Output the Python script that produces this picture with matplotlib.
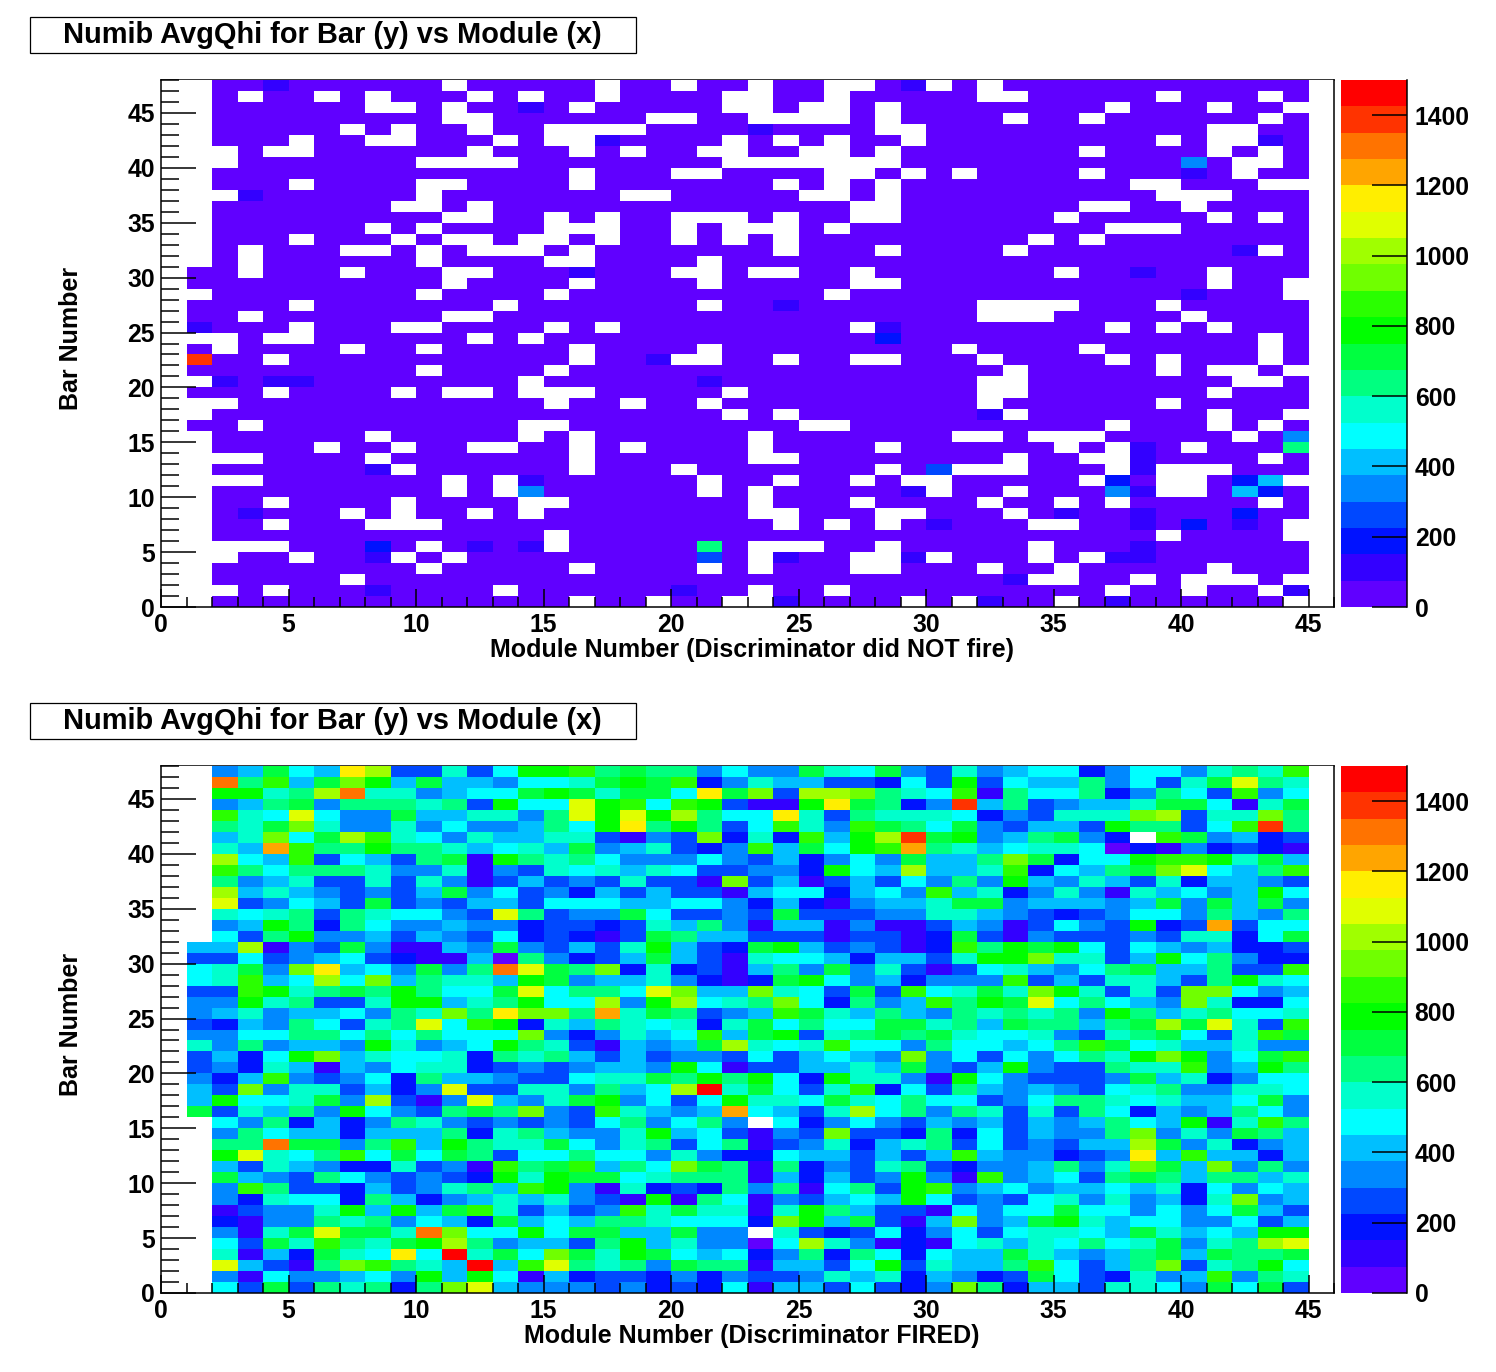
from matplotlib import pyplot as plt
from matplotlib.colors import ListedColormap, BoundaryNorm
from matplotlib.patches import Rectangle
from matplotlib.ticker import MultipleLocator
import numpy as np

plt.rcParams['font.family'] = ['Liberation Sans', 'DejaVu Sans']
plt.rcParams['font.weight'] = 'bold'

W, H = 1496, 1372

# palette bands, 75 wide each, 0 to 1500
bands = ["#6000ff", "#3300ff", "#0012ff", "#0048ff", "#0088ff", "#00bfff", "#00ffff",
         "#00ffcc", "#00ff80", "#00ff40", "#00ff00", "#2aff00", "#70ff00", "#a0ff00",
         "#e0ff00", "#ffee00", "#ffa500", "#ff7300", "#ff3300", "#ff0000"]
band_width = 75
title = "Numib AvgQhi for Bar (y) vs Module (x)"
xlabel_top = "Module Number (Discriminator did NOT fire)"
xlabel_bottom = "Module Number (Discriminator FIRED)"
ylabel = "Bar Number"
cbar_ticks = [0, 200, 400, 600, 800, 1000, 1200, 1400]

# one string per bar, 47 down to 0, modules 1 to 44. '.' is an empty bin,
# otherwise the character is the colour band (0-9, a-j)
not_fired = [
    ".0010 00000 .0000 0.00. 00.00 ..01. 0.000 00000 0000",
    ".0.00 .0.00 0.0.0 0.000 0..00 .0000 0..00 000.0 00.0",
    ".0000 00..0 .0010 .0000 0..0. .0.00 00000 0.000 .00.",
    ".0000 00000 ..000 000.. 00... .0.00 00.00 .0000 00.0",
    ".0000 0.0.0 0.00. ...00 00100 00..0 00000 00000 ..00",
    ".000. 00..0 00.0. .1000 0.0.0 .00.0 00000 000.0 ..10",
    "..0.. 00000 0.000 .0.00 ..00. .0.00 00000 .0000 .0.0",
    "..000 0000. ...00 00000 0.... ...00 00000 00004 0..0",
    ".0000 00000 00000 .000. .0000 ..0.0 .0000 .0001 0.00",
    ".000. 0000. .0000 .0000 000.0 .0.00 00000 00..0 00..",
    "..100 0000. 00000 00..0 0000. .0.00 00000 000.. .000",
    ".0000 000.. 0.000 00000 00000 0..00 00000 ..00. 0000",
    ".0000 00000 ..00. 0.00. ..0.0 0..00 0000. 00000 .0.0",
    ".0000 00.0. 0000. ..00. 0...0 .0000 00000 0...0 0000",
    ".000. 000.0 ..0.. 0.00. 0.0.0 00000 000.0 .0000 0000",
    ".0.00 0..0. 0...0 .0000 000.0 00.00 00.00 00000 01.0",
    ".0.00 0000. 0000. .0000 .0000 00000 00000 00000 0000",
    "00.00 0.000 ..000 1000. .0..0 0.000 0000. 00100 .000",
    "00000 00000 .0000 .0000 .0000 0..00 00000 00000 .00.",
    ".0000 0000. 0000. 00000 00000 .0000 00000 00001 000.",
    "0000. 00000 00.00 00000 .0010 00000 0.... 000.0 0000",
    "00.00 00000 ..000 00000 00000 00000 0...0 0000. 0000",
    "1000. 000.. 0000. 0.000 00000 0.100 00000 0.0.0 .000",
    "..0.. 00000 0.0.0 00000 00000 00200 00000 00000 00.0",
    "0.000 0.00. 00000 .0000 .0000 00000 .0000 .0000 00.0",
    "i00.0 00000 00000 .001. .00.0 0..00 0.000 0.0.0 00.0",
    "00000 0000. 0000. 00000 00000 00000 00.00 000.0 ..0.",
    ".1011 00000 000.0 00000 10000 00000 0..00 00000 0..0",
    "000.0 000.0 ..0.. .0000 0.000 00000 0..00 00000 .000",
    "..000 00000 0000. 00.00 .0000 00000 0.000 000.0 0000",
    ".0000 00000 00000 00000 0.0.0 00000 01.00 00000 .00.",
    "00.00 00000 000.. 00000 0000. .0000 00000 0.000 .0.0",
    ".0000 00.00 000.0 .0000 00.00 00000 ..0.. .0000 0.04",
    ".0000 .00.0 0..00 .0.00 00.00 00.00 0000. 0.10. 0008",
    "...00 00.00 00000 .0000 00..0 00000 00.00 ..100 00.0",
    ".0000 001.0 00000 .000. 00000 00.03 ...00 0.1.. .000",
    "...00 00000 .0.10 00000 .00.0 0.0.. 00000 .20.. 025.",
    ".0000 00000 .0.40 00000 .0.00 0001. 00.00 041.. 0520",
    ".00.0 000.0 000.. 00000 00.00 0.000 0.00. 0.000 00.0",
    ".0100 0.0.0 0.0.0 00000 00..0 00..0 00.01 00100 0200",
    ".00.0 00... 00000 00000 000.0 .0.01 000.. 00102 010.",
    ".0000 00000 0000. 00000 00000 00000 00000 000.0 000.",
    "....0 0020. 0101. 00000 80... 00.00 000.0 00100 0000",
    "..00. 001.0 .0000 00000 30.10 0..1. 000.0 .1100 0000",
    ".0000 0000. 00000 .0000 .0.00 0..00 0.00. 00000 .000",
    ".0000 0.000 00000 00000 00000 00000 001.. 00.0. ..0.",
    "..0.0 00100 00.00 00001 00.00 .0000 00000 0.00. 00.1",
    ".0000 00000 00000 .00.0 0..10 000.0 .100. 01000 000.",
]

fired = [
    ".4596 5fd33 736aa b8988 46449 76943 74566 24664 787b",
    ".h8b5 9ca59 55466 79a9b 24755 33263 a3655 84637 9e87",
    ".aa78 dh774 5669a 97996 f9c3d dc876 b1866 82486 3b46",
    ".4589 48887 83a66 eab6b a311a f9824 i5834 55799 6179",
    ".b76e 64495 57748 eaead 866f7 38777 62437 77cd3 77c8",
    ".879c 74474 64458 6af8a 836b7 4b986 94355 3a883 6bi8",
    ".57c6 9db76 47557 73143 c272b 5adi9 a4589 42.b9 4523",
    ".75gb 88a88 75675 94573 24b59 6abg8 75677 60214 2321",
    ".d65b 36538 91a87 86444 64352 46495 58c92 66abb a795",
    ".b868 88744 71437 67576 33442 a65d5 57b26 589ce 658b",
    ".8457 33737 41353 43733 1c351 35364 84a54 75372 5543",
    ".d575 43435 94634 25353 31566 2564b 57247 41756 45a6",
    ".e346 53934 35536 66556 64252 14557 99455 54594 9594",
    ".7678 38766 43e83 44963 34393 33447 75432 34664 8548",
    ".45a8 28644 54423 32375 84155 14113 54136 43a23 g366",
    ".638a 44535 43623 21398 55333 13312 93143 33437 7269",
    "55d14 39411 54943 537a5 329a5 34312 b8a9a 63654 5223",
    "33634 56321 15084 23595 31766 52553 7aac7 735a6 8422",
    "6794c f5649 48he9 8c272 31584 94731 36754 68955 833b",
    "67b56 d6c58 775a9 45574 2129a 64524 44b35 37753 8a76",
    "33ba7 898a8 669e6 886ec 55c76 393b6 797ca 7373c c645",
    "44a78 337aa 578a6 6d4ad 678c6 2845b 8a9e6 8654c 7226",
    "45745 56487 c8fcc 8g798 345b9 75854 87878 4a857 8667",
    "32548 6378e 6ba27 58767 27968 66997 85988 589d9 e73b",
    "44668 86868 666c4 24756 b59a3 78989 76674 37896 37b9",
    "74845 54a74 56a87 31545 9d767 b6648 66568 b9675 5744",
    "3526a c5766 72878 53534 43635 654c4 63646 87aca 469b",
    "34275 15467 72343 4554a 61335 57594 35a43 3877b 45a8",
    "425b4 34628 55433 67798 a8a62 a7741 a6433 34957 2466",
    "53c47 73524 e3377 4856d j7963 7b263 85454 36784 4776",
    "5a667 94d31 4e547 9a463 6a776 97686 63468 87675 5694",
    "93758 4a643 898c4 3b754 5g653 7d684 87373 86254 5864",
    ".6482 52487 43434 36846 84.62 46435 45354 5865a 17b8",
    ".4865 52555 82785 447a5 63143 c3328 26354 48c47 4985",
    ".88h9 948b5 a8779 64783 68134 72578 36343 55d94 7245",
    ".ae76 8b696 98366 86647 42265 53535 b5442 34f5b 5525",
    ".5375 42273 41b89 b586c 98182 43783 24458 47c95 c484",
    ".9543 86434 32a7a 99678 88152 534a4 1b456 38985 8857",
    ".4b83 32534 785ba 41723 28481 683ab 45645 56572 6465",
    ".4276 62852 45757 431a1 86143 565a6 34367 47452 7c45",
    ".1344 7a5a5 9b735 34b79 7717a 85331 64669 66464 6953",
    ".2144 87846 52956 58876 662ca 59315 c459a 75664 4635",
    ".4179 e997h c66a6 99559 44.73 23624 63677 65975 65aa",
    ".6397 b879a d8455 38a57 4406d 74121 67576 86794 78de",
    ".7152 976f6 j796c 97a96 56248 28626 55975 45895 9889",
    ".e531 8cb87 5j5be 87849 88155 36a37 558b6 358c3 78a6",
    ".4164 4564a 5a615 23324 24334 75725 42396 32745 b487",
    ".6393 87828 ce544 43423 26155 36324 c8255 37764 9693",
]


def decode(rows):
    # bins run 0..45 on x, first and last are never filled
    out = np.full((48, 46), np.nan)
    for i, row in enumerate(rows):
        row = row.replace(" ", "")
        assert len(row) == 44, (i, row)
        for j, c in enumerate(row):
            if c != ".":
                out[47 - i, j + 1] = (int(c, 20) + 0.5) * band_width
    return out


def px_axes(x0, y0, x1, y1):
    return fig.add_axes([x0 / W, 1 - y1 / H, (x1 - x0) / W, (y1 - y0) / H])


def draw_panel(rows, top, xlab):
    bottom = top + 527
    ax = px_axes(161, top, 1334, bottom)
    z = np.ma.masked_invalid(decode(rows))
    mesh = ax.pcolormesh(np.arange(47), np.arange(49), z, cmap=cmap, norm=norm,
                         antialiased=False, linewidth=0)
    ax.set_xlim(0, 46)
    ax.set_ylim(0, 48)
    ax.xaxis.set_major_locator(MultipleLocator(5))
    ax.xaxis.set_minor_locator(MultipleLocator(1))
    ax.yaxis.set_major_locator(MultipleLocator(5))
    ax.yaxis.set_minor_locator(MultipleLocator(1))
    ax.tick_params(axis="x", which="major", direction="in", length=13, width=1.1, pad=4, labelsize=17.8)
    ax.tick_params(axis="x", which="minor", direction="in", length=7, width=1.1)
    ax.tick_params(axis="y", which="major", direction="in", length=25, width=1.1, pad=4.5, labelsize=17.8)
    ax.tick_params(axis="y", which="minor", direction="in", length=13, width=1.1)
    # the top frame line sits behind the cells
    ax.spines["top"].set_zorder(0.5)
    for s in ax.spines.values():
        s.set_linewidth(1.1)

    cax = px_axes(1341, top, 1407, bottom)
    cb = fig.colorbar(mesh, cax=cax, ticks=cbar_ticks, drawedges=False)
    cb.outline.set_visible(False)
    cax.spines["right"].set_visible(True)
    cax.spines["right"].set_linewidth(1.1)
    cax.minorticks_off()
    cax.tick_params(axis="y", direction="in", length=25, width=1.1, pad=5.5, labelsize=17.8)

    # title box
    fig.add_artist(Rectangle((30 / W, 1 - (top - 27) / H), 606 / W, 36 / H, transform=fig.transFigure,
                             facecolor="white", edgecolor="black", linewidth=0.9))
    fig.text(332.5 / W, 1 - (top - 45) / H, title, fontsize=TITLE_SIZE, ha="center", va="center")
    fig.text(751.5 / W, 1 - (bottom + 43) / H, xlab, fontsize=LABEL_SIZE, ha="center", va="center")
    fig.text(71 / W, 1 - (top + 258.5) / H, ylabel, fontsize=LABEL_SIZE, ha="center", va="center",
             rotation=90)


TITLE_SIZE = 20.9
LABEL_SIZE = 18
cmap = ListedColormap(bands)
cmap.set_bad("white")
norm = BoundaryNorm(np.arange(len(bands) + 1) * band_width, len(bands))

fig = plt.figure(figsize=(W / 100, H / 100), dpi=100)
draw_panel(not_fired, 80, xlabel_top)
draw_panel(fired, 766, xlabel_bottom)
fig.savefig("out.png", dpi=100)
